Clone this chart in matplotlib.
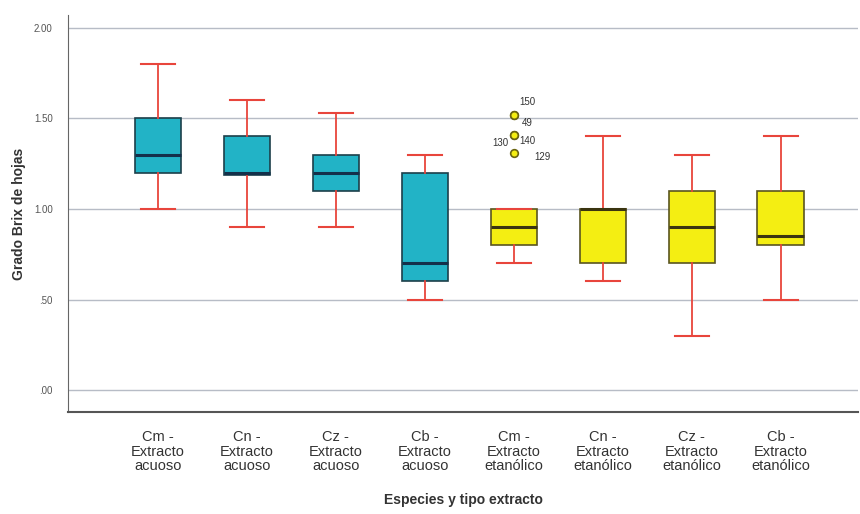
import matplotlib
matplotlib.use("Agg")
import matplotlib.pyplot as plt
from matplotlib import font_manager

categories = ["Cm -\nExtracto\nacuoso", "Cn -\nExtracto\nacuoso", "Cz -\nExtracto\nacuoso",
              "Cb -\nExtracto\nacuoso", "Cm -\nExtracto\netanólico", "Cn -\nExtracto\netanólico",
              "Cz -\nExtracto\netanólico", "Cb -\nExtracto\netanólico"]
whislo = [1.00, 0.90, 0.90, 0.50, 0.70, 0.60, 0.30, 0.50]
q1 = [1.20, 1.19, 1.10, 0.60, 0.80, 0.70, 0.70, 0.80]
med = [1.30, 1.20, 1.20, 0.70, 0.90, 1.00, 0.90, 0.85]
q3 = [1.50, 1.40, 1.30, 1.20, 1.00, 1.00, 1.10, 1.10]
whishi = [1.80, 1.60, 1.53, 1.30, 1.00, 1.40, 1.30, 1.40]
outlier_group = 4
outlier_vals = [1.52, 1.52, 1.41, 1.41, 1.31]
outlier_ids = ["150", "49", "130", "140", "129"]
ytick_vals = [0.0, 0.5, 1.0, 1.5, 2.0]
ytick_labels = [".00", ".50", "1.00", "1.50", "2.00"]

teal = "#22b3c6"
yellow = "#f4ee12"
red = "#e8453c"

avail = {f.name for f in font_manager.fontManager.ttflist}
narrow = ["Liberation Sans Narrow", "Liberation Sans", "DejaVu Sans"]
narrow = [f for f in narrow if f in avail] or ["DejaVu Sans"]
plt.rcParams['font.family'] = ["Liberation Sans", "DejaVu Sans"]

fig = plt.figure(figsize=(8.6, 5.14), dpi=100)
ax = fig.add_axes([68/860, 1-412/514, (858-68)/860, (412-15)/514])

stats = []
for i in range(len(categories)):
    fl = list(outlier_vals) if i == outlier_group else []
    stats.append(dict(whislo=whislo[i], q1=q1[i], med=med[i], q3=q3[i], whishi=whishi[i], fliers=fl))

positions = list(range(len(categories)))
bp = ax.bxp(stats, positions=positions, widths=0.52, patch_artist=True, showfliers=True,
            boxprops=dict(linewidth=1.2),
            whiskerprops=dict(color=red, linewidth=1.3),
            capprops=dict(color=red, linewidth=1.5),
            medianprops=dict(linewidth=2.2),
            flierprops=dict(marker='o', markersize=5.5, markerfacecolor=yellow,
                            markeredgecolor="#6a6410", markeredgewidth=1.2))
for i, b in enumerate(bp['boxes']):
    if i < 4:
        b.set_facecolor(teal); b.set_edgecolor("#1d3f4a")
        bp['medians'][i].set_color("#14304a")
    else:
        b.set_facecolor(yellow); b.set_edgecolor("#5a5520")
        bp['medians'][i].set_color("#3a3410")
for c in bp['caps']:
    xd = c.get_xdata()
    m = (xd[0] + xd[1]) / 2
    c.set_xdata([m - 0.19, m + 0.19])

# outlier labels
offsets = [(6, 13, 'left'), (8, -8, 'left'), (-5, -8, 'right'), (6, -6, 'left'), (21, -4, 'left')]
for v, lab, (dx, dy, ha) in zip(outlier_vals, outlier_ids, offsets):
    ax.annotate(lab, (outlier_group, v), xytext=(dx, dy), textcoords='offset pixels',
                fontsize=7, ha=ha, va='center', color="#333333")

ax.set_xlim(-1.01, 7.87)
ax.set_ylim(-0.12, 2.07)
ax.set_yticks(ytick_vals)
ax.set_yticklabels(ytick_labels, fontsize=7, color="#555555")
ax.set_xticks(positions)
ax.set_xticklabels(categories, fontsize=10.5, family=narrow, linespacing=1.05, color="#333333")
ax.tick_params(axis='both', length=0)
ax.tick_params(axis='x', pad=13)
ax.tick_params(axis='y', pad=11)
ax.yaxis.grid(True, color="#b7bcc6", linewidth=1.0)
ax.set_axisbelow(True)
for s in ['top', 'right']:
    ax.spines[s].set_visible(False)
ax.spines['left'].set_color("#666666")
ax.spines['bottom'].set_color("#555555")
ax.spines['bottom'].set_linewidth(1.5)
ax.set_ylabel("Grado Brix de hojas", fontsize=10, fontweight='bold', color="#333333", labelpad=6)
ax.set_xlabel("Especies y tipo extracto", fontsize=10, fontweight='bold', color="#333333", labelpad=14)

fig.savefig("out.png", dpi=100, facecolor="white")
